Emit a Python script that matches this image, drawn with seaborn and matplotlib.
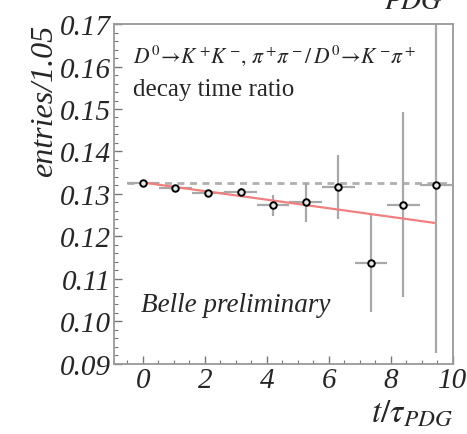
import numpy as np
import pandas as pd
import matplotlib
matplotlib.use("Agg")
import matplotlib.pyplot as plt
from matplotlib.ticker import MultipleLocator
import seaborn as sns

# data
t_centers = [0.0, 1.05, 2.10, 3.15, 4.20, 5.25, 6.30, 7.35, 8.40, 9.45]
ratio = [0.1325, 0.1313, 0.1303, 0.1304, 0.1273, 0.1280, 0.1317, 0.1138, 0.1275, 0.1320]
ratio_err = [0.0003, 0.0004, 0.0006, 0.0010, 0.0025, 0.0045, 0.0075, 0.0115, 0.0218, 0.0394]
t_halfwidth = [0.525] * 10
fit_t = [0.0, 9.4]
fit_ratio = [0.1327, 0.1232]
flat_t = [-0.5, 10.0]
flat_ratio = [0.1327, 0.1327]
yticks = [0.09, 0.10, 0.11, 0.12, 0.13, 0.14, 0.15, 0.16, 0.17]
ytick_labels = ["0.09", "0.10", "0.11", "0.12", "0.13", "0.14", "0.15", "0.16", "0.17"]
xticks = [0, 2, 4, 6, 8, 10]

sns.set_theme(style="ticks")
plt.rcParams["font.family"] = ["Liberation Serif", "DejaVu Serif"]
plt.rcParams["mathtext.fontset"] = "stix"

df = pd.DataFrame({"t": t_centers, "r": ratio})
dfit = pd.DataFrame({"t": fit_t, "r": fit_ratio})
dflat = pd.DataFrame({"t": flat_t, "r": flat_ratio})

fig = plt.figure(figsize=(4.67, 4.35), dpi=100)
ax = fig.add_axes([0.244, 0.161, 0.726, 0.7815])

sns.lineplot(data=dflat, x="t", y="r", ax=ax, color="#b0b0b0", lw=2.0,
             linestyle=(0, (2.5, 2.0)), zorder=1)
ax.errorbar(t_centers, ratio, yerr=ratio_err, xerr=t_halfwidth, fmt="none",
            ecolor="#a8a8a8", elinewidth=1.6, capsize=0, zorder=2)
sns.lineplot(data=dfit, x="t", y="r", ax=ax, color="#f08080", lw=1.6, zorder=3)
sns.scatterplot(data=df, x="t", y="r", ax=ax, marker="o", s=22,
                facecolor="#e8e8e8", edgecolor="black", linewidth=1.4, zorder=4)

ax.set_xlim(-0.93, 10.0)
ax.set_ylim(0.09, 0.17)
ax.set_xticks(xticks)
ax.set_xticklabels([str(v) for v in xticks])
ax.set_yticks(yticks)
ax.set_yticklabels(ytick_labels)
ax.xaxis.set_minor_locator(MultipleLocator(0.5))
ax.yaxis.set_minor_locator(MultipleLocator(0.002))
ax.tick_params(axis="both", which="major", direction="in", length=6, width=1.0,
               color="#777777", labelsize=21, pad=2)
ax.tick_params(axis="both", which="minor", direction="in", length=3, width=0.8,
               color="#777777")
ax.tick_params(top=False, right=False, which="both")
for lab in ax.get_xticklabels() + ax.get_yticklabels():
    lab.set_fontstyle("italic")
for s in ax.spines.values():
    s.set_color("#999999")
    s.set_linewidth(1.3)

ax.set_xlabel(r"$t/\tau_{PDG}$", fontsize=24, loc="right", labelpad=3)
ax.set_ylabel("entries/1.05", fontsize=23, loc="top", fontstyle="italic", labelpad=1)

ax.text(0.055, 0.91, r"$D^0\!\rightarrow\! K^+\!K^-\!,\,\pi^+\!\pi^-/\,D^0\!\rightarrow\! K^-\!\pi^+$",
        transform=ax.transAxes, fontsize=15.5, va="center", ha="left")
ax.text(0.055, 0.81, "decay time ratio", transform=ax.transAxes, fontsize=18,
        va="center", ha="left")
ax.text(0.08, 0.175, "Belle preliminary", transform=ax.transAxes, fontsize=19.5,
        fontstyle="italic", va="center", ha="left")
fig.text(0.885, 0.995, r"$PDG$", fontsize=20, ha="center", va="center")

ax.set_facecolor("white")
fig.savefig("out.png", dpi=100, facecolor="white")
